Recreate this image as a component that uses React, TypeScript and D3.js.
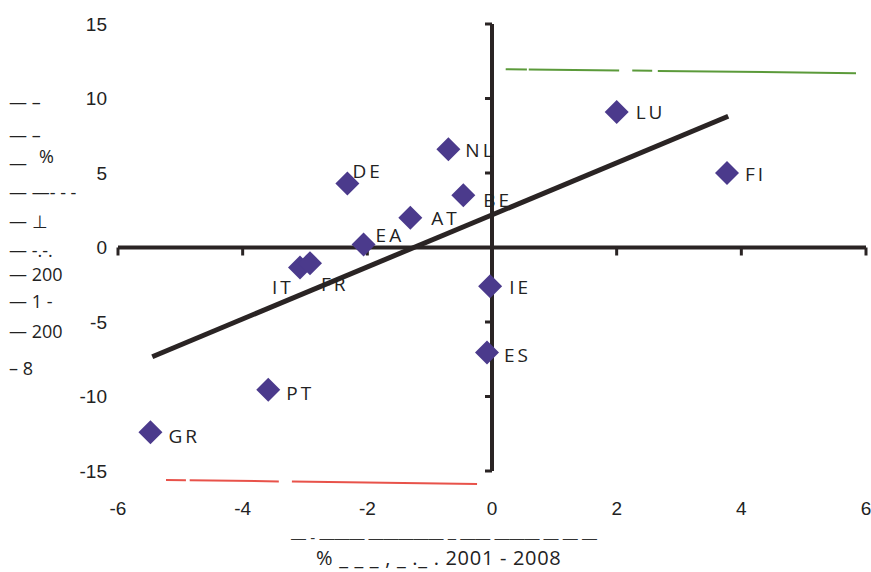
import React from "react";
import * as d3 from "d3";

// ---- data ----
const countries = ["LU", "FI", "NL", "DE", "BE", "AT", "EA", "IT", "FR", "IE", "ES", "PT", "GR"];
const xValues = [2.0, 3.77, -0.7, -2.32, -0.46, -1.31, -2.06, -3.08, -2.92, -0.03, -0.08, -3.59, -5.48];
const yValues = [9.1, 5.0, 6.6, 4.3, 3.5, 2.0, 0.2, -1.35, -1.05, -2.6, -7.05, -9.55, -12.4];
const trendX = [-5.45, 3.79];
const trendY = [-7.33, 8.81];
const xTicks = [-6, -4, -2, 0, 2, 4, 6];
const yTicks = [-15, -10, -5, 0, 5, 10, 15];
const xTitle = "% _ _ _ , _ ._ . 2001 - 2008";
const xTitleDashes = "— - ——— ————— – —— ——— — — —";
const yTitleLines = ["— –", "— –", "%", "—", "— —- - -", "— ⊥", "— -.-.", "— 200", "— 1 -", "— 200", "– 8"];
// decorative garbled legend strokes (data units)
const greenSegX = [[0.22, 0.56], [0.59, 2.04], [2.25, 2.57], [2.66, 5.84]];
const greenSegY = [11.97, 11.7];
const redSegX = [[-5.23, -4.91], [-4.85, -3.42], [-3.21, -0.24]];
const redSegY = [-15.6, -15.87];

// ---- layout ----
const W = 871, H = 572;
const x = d3.scaleLinear().domain([-6, 6]).range([118, 866]);
const y = d3.scaleLinear().domain([-15, 15]).range([471, 24]);

const labelOffsets: Record<string, [number, number]> = {
  LU: [19, 7], FI: [18, 8], NL: [17, 8], DE: [5, -5],
  BE: [20, 12], AT: [21, 7], EA: [12, -3], IT: [-28, 26],
  FR: [11, 28], IE: [19, 8], ES: [17, 9], PT: [18, 10],
  GR: [18, 11],
};
const yTitlePos: [number, number][] = [
  [9, 109], [9, 142], [39, 163], [9, 170], [9, 199], [9, 228], [9, 257],
  [9, 281], [9, 308], [9, 338], [9, 375],
];

const AXIS = "#2a2424";
const MARK = "#4b3a8c";

export default function App() {
  const x0 = x(0), y0 = y(0);
  const dia = 12;
  const lineGen = d3.line<[number, number]>().x(d => x(d[0])).y(d => y(d[1]));
  const trend: [number, number][] = trendX.map((v, i) => [v, trendY[i]]);
  const segY = (ys: number[], xs: number[], xv: number) =>
    ys[0] + (ys[1] - ys[0]) * ((xv - xs[0]) / (xs[1] - xs[0]));
  const gAll = [greenSegX[0][0], greenSegX[greenSegX.length - 1][1]];
  const rAll = [redSegX[0][0], redSegX[redSegX.length - 1][1]];
  return (
    <svg width={W} height={H} style={{ position: "absolute", left: 0, top: 0, background: "#fff" }}
      fontFamily="'Liberation Sans', Arial, sans-serif">
      {/* decorative strokes */}
      {greenSegX.map((s, i) => (
        <line key={"g" + i} x1={x(s[0])} x2={x(s[1])} y1={y(segY(greenSegY, gAll, s[0]))}
          y2={y(segY(greenSegY, gAll, s[1]))} stroke="#5b9a3a" strokeWidth={2} />
      ))}
      {redSegX.map((s, i) => (
        <line key={"r" + i} x1={x(s[0])} x2={x(s[1])} y1={y(segY(redSegY, rAll, s[0]))}
          y2={y(segY(redSegY, rAll, s[1]))} stroke="#e8524a" strokeWidth={2} />
      ))}
      {/* horizontal axis */}
      <line x1={x(-6)} x2={x(6)} y1={y0} y2={y0} stroke={AXIS} strokeWidth={4} />
      {xTicks.filter(t => t !== 0).map(t => (
        <line key={"xt" + t} x1={x(t)} x2={x(t)} y1={y0} y2={y0 + 8} stroke={AXIS} strokeWidth={3} />
      ))}
      {/* vertical axis */}
      <line x1={x0} x2={x0} y1={y(15)} y2={y(-15)} stroke={AXIS} strokeWidth={4} />
      {yTicks.map(t => (
        <line key={"yt" + t} x1={x0 - 7} x2={x0} y1={y(t)} y2={y(t)} stroke={AXIS} strokeWidth={3} />
      ))}
      {/* tick labels */}
      {yTicks.map(t => (
        <text key={"yl" + t} x={107} y={y(t)} dy="0.35em" textAnchor="end" fontSize={19} fill="#222">{t}</text>
      ))}
      {xTicks.map(t => (
        <text key={"xl" + t} x={x(t)} y={515} textAnchor="middle" fontSize={19} fill="#222">{t}</text>
      ))}
      {/* trend line */}
      <path d={lineGen(trend) || ""} stroke={AXIS} strokeWidth={5} fill="none" />
      {/* points */}
      {countries.map((c, i) => {
        const px = x(xValues[i]), py = y(yValues[i]);
        return (
          <path key={"p" + c}
            d={`M${px},${py - dia}L${px + dia},${py}L${px},${py + dia}L${px - dia},${py}Z`}
            fill={MARK} />
        );
      })}
      {countries.map((c, i) => {
        const px = x(xValues[i]), py = y(yValues[i]);
        const o = labelOffsets[c];
        return (
          <text key={"l" + c} x={px + o[0]} y={py + o[1]}
            fontFamily="'Open Sans', sans-serif" fontSize={19} letterSpacing={3} fill="#222">{c}</text>
        );
      })}
      {/* axis titles */}
      <text x={444} y={543} textAnchor="middle" fontSize={15} fill="#333">{xTitleDashes}</text>
      <text x={316} y={565} fontFamily="'Open Sans', sans-serif" fontSize={20} letterSpacing={0.7} fill="#222">{xTitle}</text>
      {yTitleLines.map((s, i) => (
        <text key={"yt" + i} x={yTitlePos[i][0]} y={yTitlePos[i][1]}
          fontFamily="'Open Sans', sans-serif" fontSize={18} fill="#222">{s}</text>
      ))}
    </svg>
  );
}
